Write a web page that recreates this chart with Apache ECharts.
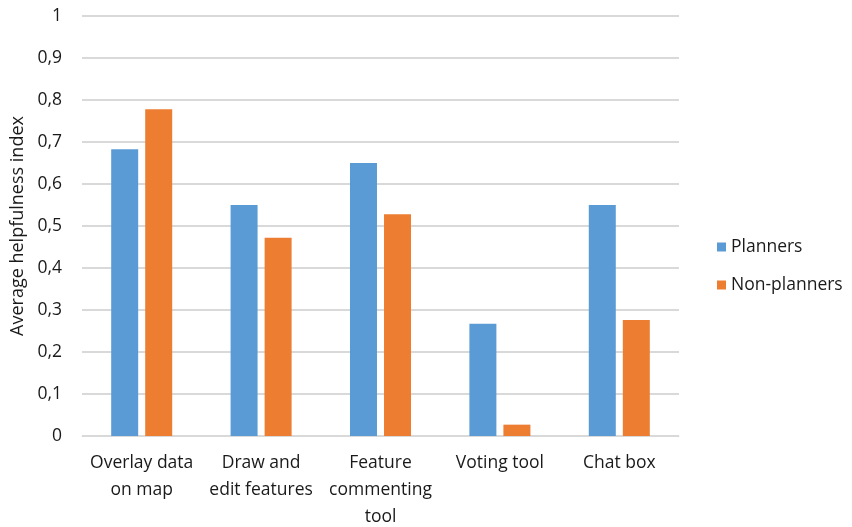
<!DOCTYPE html>
<html><head><meta charset="utf-8">
<script src="https://cdn.jsdelivr.net/npm/echarts@6/dist/echarts.min.js"></script>
<style>html,body{margin:0;padding:0;background:#fff}#c{width:852px;height:527px}</style>
</head><body><div id="c"></div>
<script>
const categories = ["Overlay data\non map", "Draw and\nedit features", "Feature\ncommenting\ntool", "Voting tool", "Chat box"];
const planners = [0.683, 0.55, 0.65, 0.267, 0.55];
const nonPlanners = [0.778, 0.472, 0.528, 0.027, 0.276];
const yTicks = { min: 0, max: 1, interval: 0.1 };
const FONT = "Open Sans";
const chart = echarts.init(document.getElementById('c'));
chart.setOption({
  animation: false,
  textStyle: { fontFamily: FONT },
  grid: { left: 82, right: 173, top: 16, bottom: 91, containLabel: false, outerBoundsMode: 'none' },
  legend: {
    orient: 'vertical', left: 712, top: 233, itemWidth: 9, itemHeight: 9, itemGap: 20,
    icon: 'rect',
    textStyle: { fontFamily: FONT, fontSize: 17.5, color: '#1a1a1a' },
    data: ['Planners', 'Non-planners']
  },
  xAxis: {
    type: 'category', data: categories,
    axisLine: { lineStyle: { color: '#D9D9D9', width: 1 } },
    axisTick: { show: false },
    axisLabel: { fontFamily: FONT, fontSize: 17.5, color: '#1a1a1a', lineHeight: 27, margin: 14, interval: 0 }
  },
  yAxis: {
    type: 'value', min: yTicks.min, max: yTicks.max, interval: yTicks.interval,
    name: 'Average helpfulness index', nameLocation: 'middle', nameGap: 55,
    nameTextStyle: { fontFamily: FONT, fontSize: 18, color: '#1a1a1a' },
    axisLine: { show: false }, axisTick: { show: false },
    splitLine: { lineStyle: { color: '#D9D9D9', width: 2 } },
    axisLabel: { fontFamily: FONT, fontSize: 17.5, color: '#1a1a1a', margin: 20,
      formatter: v => String(Math.round(v * 10) / 10).replace('.', ',') }
  },
  series: [
    { name: 'Planners', type: 'bar', data: planners, barWidth: 27, barGap: '26%',
      itemStyle: { color: '#5B9BD5' } },
    { name: 'Non-planners', type: 'bar', data: nonPlanners, barWidth: 27,
      itemStyle: { color: '#ED7D31' } }
  ]
});
</script></body></html>
